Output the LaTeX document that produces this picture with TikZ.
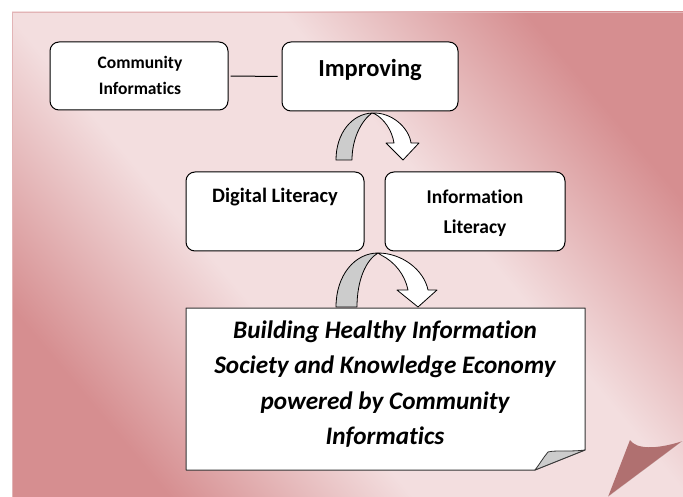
\documentclass[tikz,border=0pt]{standalone}
\usepackage{fontspec}
\setmainfont{Carlito}[Ligatures={NoCommon}]
\definecolor{pdark}{RGB}{214,142,144}
\definecolor{plight}{RGB}{243,222,223}
\definecolor{pedge}{RGB}{226,180,182}
\definecolor{curlc}{RGB}{176,112,112}
\definecolor{ribbon}{RGB}{204,204,204}
\pgfdeclarehorizontalshading{pageshade}{100bp}{color(0bp)=(pdark); color(25bp)=(pdark); color(41bp)=(plight); color(59bp)=(plight); color(75bp)=(pdark); color(100bp)=(pdark)}
\begin{document}
\begin{tikzpicture}[x=1pt,y=-1pt,
  box/.style={draw=black, line width=1pt, fill=white, rounded corners=9pt, inner sep=0pt},
  lbl/.style={align=center, inner sep=0pt, font=\bfseries},
  arrowback/.style={draw=black, line width=0.8pt, fill=ribbon, line join=round},
  arrowfront/.style={draw=black, line width=0.8pt, fill=white, line join=round}]
\useasboundingbox (0,0) rectangle (683,497);
\fill[white] (0,0) rectangle (683,497);
\shade[shading=pageshade, shading angle=40] (12,12) rectangle (683,497);
\draw[pedge, line width=0.8pt] (12,497) -- (12,12) -- (683,12);
% page curl
\fill[curlc] (608,497) -- (630,440) .. controls (636,449) and (655,450) .. (683,441) -- cycle;
\draw[white, opacity=0.5, line width=0.8pt] (683,441) -- (608,497);

% boxes
\node[box, minimum width=178pt, minimum height=68pt] (ci) at (139,76) {};
\node[box, minimum width=176pt, minimum height=69pt] (imp) at (370,76.5) {};
\node[box, minimum width=178pt, minimum height=79pt] (dl) at (275,211.5) {};
\node[box, minimum width=180pt, minimum height=79pt] (il) at (475,211.5) {};

\node[lbl, font=\bfseries\fontsize{17.5}{26}\selectfont] (tci) at (140,75) {Community\\Informatics};
\node[lbl, font=\bfseries\fontsize{24.5}{28}\selectfont] (timp) at (370,70) {Improving};
\node[lbl, font=\bfseries\fontsize{20.5}{24}\selectfont] (tdl) at (275,197) {Digital Literacy};
\node[lbl, font=\bfseries\fontsize{19.5}{30}\selectfont] (til) at (475,213) {Information\\Literacy};

\draw[line width=1pt, shorten <=2pt, shorten >=4pt] (ci) -- (imp);

% curved arrow 1
\draw[arrowback] (336,160) .. controls (336,133) and (352,114) .. (372,113)
   .. controls (361,121) and (352,139) .. (352,160) -- cycle;
\draw[arrowfront] (372,113) .. controls (392,112) and (409,128) .. (411,143)
   -- (419,143) -- (403,160) -- (386,143) -- (394,143)
   .. controls (392,130) and (384,119) .. (375,114) -- cycle;

% goal box with folded corner
\filldraw[draw=black!80, line width=1pt, fill=white, line join=round]
  (186,308) -- (585,308) -- (585,450) -- (535,470) -- (186,470) -- cycle;
\filldraw[draw=black!80, line width=0.8pt, fill=ribbon, line join=round]
  (585,450) .. controls (570,452) and (555,450) .. (548,452) .. controls (543,458) and (539,465) .. (535,470) -- cycle;
\node[lbl, font=\bfseries\itshape\fontsize{25.2}{35.5}\selectfont] (goal) at (385,384)
  {Building Healthy Information\\Society and Knowledge Economy\\powered by Community\\Informatics};

% curved arrow 2
\draw[arrowback] (336,307) .. controls (336,275) and (355,253) .. (378,253)
   .. controls (366,260) and (357,280) .. (357,307) -- cycle;
\draw[arrowfront] (378,253) .. controls (402,253) and (424,270) .. (428,290)
   -- (437,290) -- (418,307) -- (397,290) -- (408,290)
   .. controls (405,275) and (395,262) .. (381,255) -- cycle;
\end{tikzpicture}
\end{document}
